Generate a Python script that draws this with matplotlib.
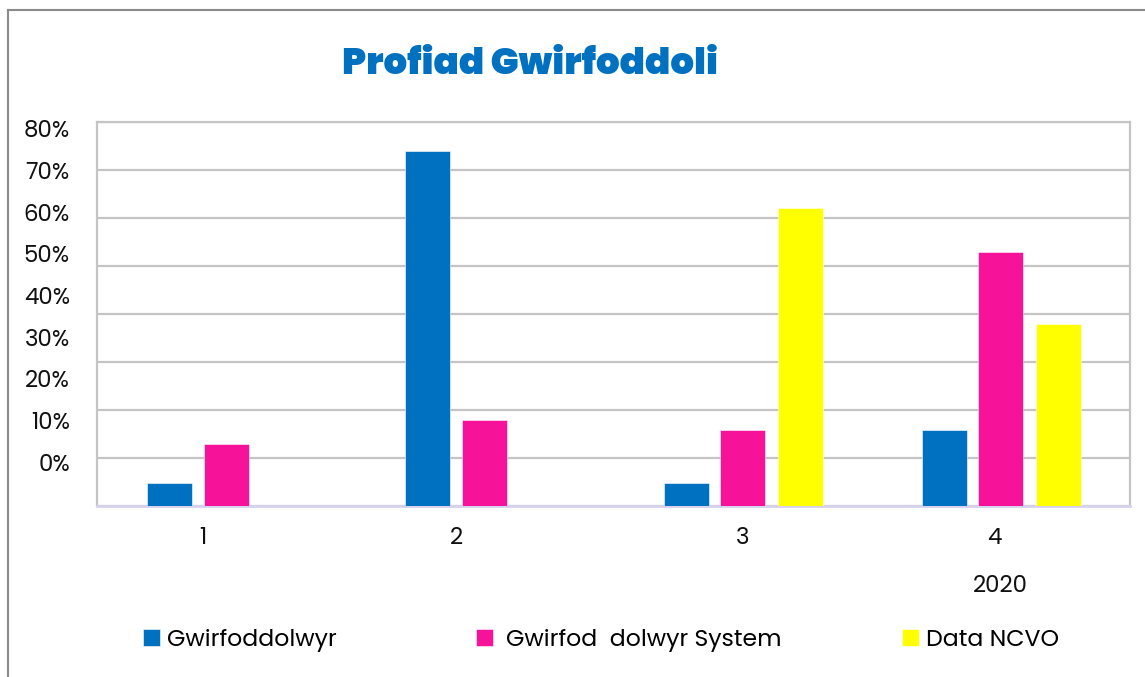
import matplotlib
matplotlib.use("Agg")
import matplotlib.pyplot as plt
import numpy as np
from matplotlib.lines import Line2D

# ---- data ----
categories = ["1", "2", "3", "4"]
gwirfoddolwyr = [4.8, 73.9, 4.85, 15.8]
gwirfod_system = [12.9, 17.9, 15.9, 52.9]
data_ncvo = [np.nan, np.nan, 62.0, 37.9]
series_names = ["Gwirfoddolwyr", "Gwirfod  dolwyr System", "Data NCVO"]
ytick_values = [0, 10, 20, 30, 40, 50, 60, 70, 80]
title = "Profiad Gwirfoddoli"
extra_label = "2020"

# ---- style ----
FONT = ["Poppins", "Open Sans", "DejaVu Sans"]
plt.rcParams["font.family"] = FONT
colors = ["#0070C0", "#F7129A", "#FFFF00"]
W, H = 1145, 677
fig = plt.figure(figsize=(W / 100, H / 100), dpi=100)
ax = fig.add_axes([97 / W, 171 / H, 1033 / W, 384 / H])

x = np.arange(len(categories))
bw = 0.174
offs = [-0.219, 0.0, 0.223]
bars = []
for vals, c, o, n in zip([gwirfoddolwyr, gwirfod_system, data_ncvo], colors, offs, series_names):
    b = ax.bar(x + o, vals, bw, color=c, label=n, zorder=3,
               edgecolor="white", linewidth=0.4)
    bars.append(b)

ax.set_xlim(-0.5, 3.5)
ax.set_ylim(0, 80)
ax.set_yticks(np.arange(0, 81, 10))
ax.yaxis.grid(True, color="#c4c4c4", linewidth=1.6, zorder=0)
ax.tick_params(axis="y", left=False, labelleft=False)
label_shift = [-0.089, -0.108, 0.0, -0.027]
ax.set_xticks(x + np.array(label_shift))
ax.set_xticklabels(categories, fontsize=16.5, color="#111111")
ax.tick_params(axis="x", length=0, pad=15)
for s in ["left", "right", "top"]:
    ax.spines[s].set_color("#c4c4c4")
    ax.spines[s].set_linewidth(1.6)
ax.spines["bottom"].set_color("#d6d2ee")
ax.spines["bottom"].set_linewidth(2)

# misaligned percentage labels (as in the original)
sec = ax.secondary_yaxis("left", functions=(lambda v: (v - 9.15) / 0.868,
                                            lambda L: 9.15 + 0.868 * L))
sec.set_yticks(ytick_values)
sec.set_yticklabels([f"{v}%" for v in ytick_values], fontsize=16.5, color="#111111")
sec.tick_params(length=0, pad=19.5)
sec.spines["left"].set_visible(False)

fig.text(530 / W, 1 - 66 / H, title, ha="center", va="center", fontsize=26.8,
         fontweight="black", color="#0070C0", family=["Poppins", "Open Sans", "DejaVu Sans"])
fig.text(1000 / W, 1 - 587 / H, extra_label, ha="center", va="center", fontsize=16.5, color="#111111")

leg_x = [143, 476, 902]
leg_pad = [0.3, 0.55, 0.3]
for b, lx, n, p in zip(bars, leg_x, series_names, leg_pad):
    fig.legend(handles=[b], labels=[n], loc="center left",
               bbox_to_anchor=(lx / W, 1 - 640 / H), frameon=False,
               fontsize=17, handlelength=0.72, handleheight=0.72,
               handletextpad=p, borderpad=0, borderaxespad=0)

# outer frame lines
fig.add_artist(Line2D([8 / W, 8 / W], [0, 1 - 10 / H], transform=fig.transFigure,
                      color="#8a8a8a", linewidth=1.5))
fig.add_artist(Line2D([8 / W, 1], [1 - 10 / H, 1 - 10 / H], transform=fig.transFigure,
                      color="#8a8a8a", linewidth=1.5))

fig.savefig("out.png", dpi=100)
